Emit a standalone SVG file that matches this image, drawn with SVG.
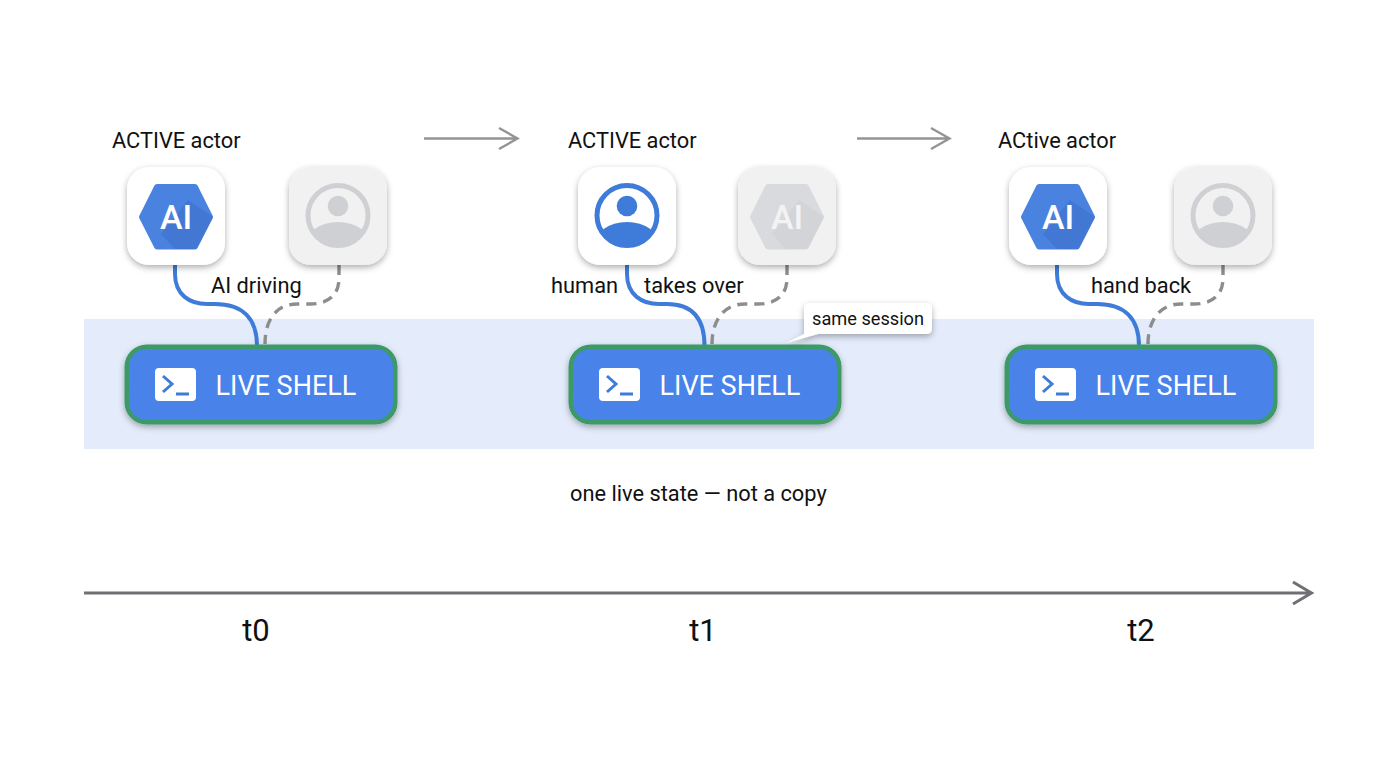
<svg xmlns="http://www.w3.org/2000/svg" width="1376" height="768" viewBox="0 0 1376 768">
<style>
text{font-family:Roboto,"Liberation Sans",sans-serif;fill:#111}
.lbl{font-size:21.800px}
.t{font-size:31px;text-anchor:middle}
.shell{font-size:27px;fill:#fff}
.wire{fill:none;stroke:#3f7bd9;stroke-width:4}
.dash{fill:none;stroke:#8d8d8f;stroke-width:3.400;stroke-dasharray:10 7}
.arr{fill:none;stroke:#949496;stroke-width:2.400}
</style>
<defs>
<filter id="sh" x="-20%" y="-20%" width="140%" height="150%"><feDropShadow dx="0" dy="2.500" stdDeviation="3" flood-color="#000" flood-opacity=".32"/></filter>
<g id="shellbox">
<rect x="1.750" y="1.750" width="268.500" height="75.500" rx="20" fill="#4a82e8" stroke="#3c9a68" stroke-width="4.500" filter="url(#sh)"/>
<rect x="30" y="23" width="41" height="33" rx="4" fill="#fff"/>
<path d="M38 31l9 8-9 8" fill="none" stroke="#3f7bd9" stroke-width="3"/>
<path d="M51 49h13" fill="none" stroke="#3f7bd9" stroke-width="3"/>
<text x="90.500" y="49.500" class="shell">LIVE SHELL</text>
</g>
<g id="hex">
<path d="M15 50L30 20H68L83 50L68 79.500H30Z" stroke-width="6" stroke-linejoin="round"/>
</g>
<g id="aiOn">
<rect width="98" height="98" rx="22" fill="#fff" filter="url(#sh)"/>
<use href="#hex" fill="#4a82e0" stroke="#4a82e0"/>
<path d="M61 33L86 50L69 82H48L34 67Z" fill="#3f74cf" opacity=".7"/>
<text x="49" y="62" font-size="34" text-anchor="middle" font-weight="500" style="fill:#fff">AI</text>
</g>
<g id="aiOff">
<rect width="98" height="98" rx="22" fill="#f1f1f2" filter="url(#sh)"/>
<use href="#hex" fill="#d9dadd" stroke="#d9dadd"/>
<path d="M61 33L86 50L69 82H48L34 67Z" fill="#d0d1d4" opacity=".7"/>
<text x="49" y="62" font-size="34" text-anchor="middle" font-weight="500" style="fill:#f3f3f4">AI</text>
</g>
<clipPath id="pc"><circle cx="49" cy="48.500" r="30"/></clipPath>
<g id="person">
<circle cx="49" cy="48.500" r="30" fill="none" stroke="currentColor" stroke-width="5"/>
<circle cx="49" cy="39" r="10.300" fill="currentColor"/>
<ellipse cx="49" cy="79" rx="33" ry="24" fill="currentColor" clip-path="url(#pc)"/>
</g>
</defs>
<rect width="1376" height="768" fill="#fff"/>
<rect id="band" x="84" y="319" width="1230" height="130" fill="#e4ebfb"/>

<g id="connectors">
<path class="wire" d="M175 265V274C175 295 190 304 207 304H215C242 304 257 318 257 346"/>
<path class="dash" d="M339 265V278C339 297 326 304 310 304H297C276 304 265 320 265 344"/>
<path class="wire" d="M627 265V274C627 295 642 304 659 304H667C692 304 704.500 318 704.500 346"/>
<path class="dash" d="M787 265V278C787 297 774 304 758 304H745C724 304 712 320 712 344"/>
<path class="wire" d="M1057 265V274C1057 295 1072 304 1089 304H1097C1124 304 1139 318 1139 346"/>
<path class="dash" d="M1223 265V278C1223 297 1210 304 1194 304H1181C1160 304 1148 320 1148 344"/>
<path class="arr" d="M424 138.500H517M499 128L517.500 138.500L499 149"/>
<path class="arr" d="M857 138.500H949M931 128L949.500 138.500L931 149"/>
<path fill="none" stroke="#6f7073" stroke-width="3" d="M84 593H1311M1293 582L1311.500 593L1293 604"/>
</g>

<g id="n-t0"><text x="112" y="148" class="lbl">ACTIVE actor</text>
<use href="#aiOn" x="127" y="167"/>
<g transform="translate(289 167)" style="color:#cfd0d3"><rect width="98" height="98" rx="22" fill="#f1f1f2" filter="url(#sh)"/><use href="#person"/></g>
<text x="211" y="293" class="lbl">AI driving</text>
<use href="#shellbox" x="125" y="345"/></g>

<g id="n-t1"><text x="568" y="148" class="lbl">ACTIVE actor</text>
<g transform="translate(578 167)" style="color:#3f7bd9"><rect width="98" height="98" rx="22" fill="#fff" filter="url(#sh)"/><use href="#person"/></g>
<use href="#aiOff" x="738" y="167"/>
<text x="551" y="293" class="lbl">human</text>
<text x="644" y="293" class="lbl">takes over</text>
<use href="#shellbox" x="569" y="345"/></g>

<g id="n-callout">
<path filter="url(#sh)" fill="#fff" d="M810 303H926Q932 303 932 309V328Q932 334 926 334H818L786 343L804 334V309Q804 303 810 303Z"/>
<text x="812" y="324.500" font-size="18.200">same session</text></g>

<g id="n-t2"><text x="998" y="148" class="lbl">ACtive actor</text>
<use href="#aiOn" x="1009" y="167"/>
<g transform="translate(1174 167)" style="color:#cfd0d3"><rect width="98" height="98" rx="22" fill="#f1f1f2" filter="url(#sh)"/><use href="#person"/></g>
<text x="1091" y="293" class="lbl">hand back</text>
<use href="#shellbox" x="1005" y="345"/></g>

<text id="note" x="570" y="501" class="lbl">one live state — not a copy</text>
<text id="t0" x="256" y="641" class="t">t0</text>
<text id="t1" x="703" y="641" class="t">t1</text>
<text id="t2" x="1141" y="641" class="t">t2</text>
</svg>
